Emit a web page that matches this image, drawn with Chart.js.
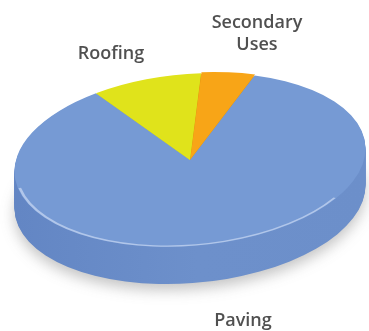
<!DOCTYPE html>
<html>
<head>
<meta charset="utf-8">
<script src="https://cdn.jsdelivr.net/npm/chart.js@4.4.1/dist/chart.umd.min.js"></script>
<style>
  html, body { margin: 0; padding: 0; background: #fff; }
  #pie { display: block; }
</style>
</head>
<body>
<canvas id="pie" width="369" height="331"></canvas>
<script>
// categories and shares
const categories = ['Paving', 'Roofing', 'Secondary Uses'];
const shares = [85, 10, 5];
const topColors = ['#769ad4', '#e0e31b', '#f8a517'];
const sideColors = ['#6d90cb', '#c8ca12', '#dc8f10'];

// tilted disc look
const disc = { cx: 190, cy: 160, rx: 176, ry: 86, tilt: -4.9, depth: 37 };

// where each label sits (lines split for the two-line one)
const labelSpots = [
  { lines: ['Paving'], x: 243, y: 326 },
  { lines: ['Roofing'], x: 111, y: 59 },
  { lines: ['Secondary', 'Uses'], x: 257, y: 28 }
];

// map the flat pie onto the tilted ellipse
function toDisc(ctx, arc, down) {
  const R = arc.outerRadius;
  ctx.translate(disc.cx, disc.cy + (down || 0));
  ctx.rotate(disc.tilt * Math.PI / 180);
  ctx.scale(disc.rx / R, disc.ry / R);
  ctx.translate(-arc.x, -arc.y);
}

const tiltPlugin = {
  id: 'tilt',
  beforeDatasetDraw(chart, args) {
    const ctx = chart.ctx;
    const arcs = args.meta.data;
    const R = arcs[0].outerRadius;

    // side wall: stack of shifted copies, lowest one casts the shadow
    for (let d = disc.depth; d >= 1; d--) {
      ctx.save();
      toDisc(ctx, arcs[0], d);
      if (d === disc.depth) {
        ctx.shadowColor = 'rgba(70,70,70,0.32)';
        ctx.shadowBlur = 14;
        ctx.shadowOffsetY = 6;
      }
      arcs.forEach((a, i) => {
        const g = ctx.createLinearGradient(a.x - R, 0, a.x + R, 0);
        g.addColorStop(0, i === 0 ? '#6386c4' : sideColors[i]);
        g.addColorStop(0.5, sideColors[i]);
        g.addColorStop(1, i === 0 ? '#6c8fca' : sideColors[i]);
        ctx.fillStyle = g;
        ctx.beginPath();
        ctx.moveTo(a.x, a.y);
        ctx.arc(a.x, a.y, a.outerRadius, a.startAngle, a.endAngle);
        ctx.closePath();
        ctx.fill();
      });
      ctx.restore();
    }

    ctx.save();
    toDisc(ctx, arcs[0], 0);
  },
  afterDatasetDraw(chart, args) {
    const ctx = chart.ctx;
    const a = args.meta.data[0];
    // light rim along the front edge of the top face
    ctx.strokeStyle = 'rgba(225,235,252,0.55)';
    ctx.lineWidth = 2.2;
    ctx.beginPath();
    ctx.arc(a.x, a.y, a.outerRadius - 1.5, 0.2 * Math.PI, 0.95 * Math.PI);
    ctx.stroke();
    ctx.restore();
  },
  afterDraw(chart) {
    const ctx = chart.ctx;
    ctx.save();
    ctx.font = '600 18px "Open Sans"';
    ctx.fillStyle = '#505050';
    ctx.textAlign = 'center';
    ctx.textBaseline = 'alphabetic';
    labelSpots.forEach(s => {
      s.lines.forEach((t, k) => ctx.fillText(t, s.x, s.y + k * 22));
    });
    ctx.restore();
  }
};

const myPie = new Chart(document.getElementById('pie'), {
  type: 'pie',
  data: {
    labels: categories,
    datasets: [{
      data: shares,
      backgroundColor: topColors,
      borderWidth: 0,
      offset: [0, 0, 4],
      clip: false
    }]
  },
  options: {
    responsive: false,
    animation: false,
    rotation: 24,
    layout: { padding: 20 },
    plugins: {
      legend: { display: false },
      tooltip: { enabled: false }
    }
  },
  plugins: [tiltPlugin]
});
</script>
</body>
</html>
